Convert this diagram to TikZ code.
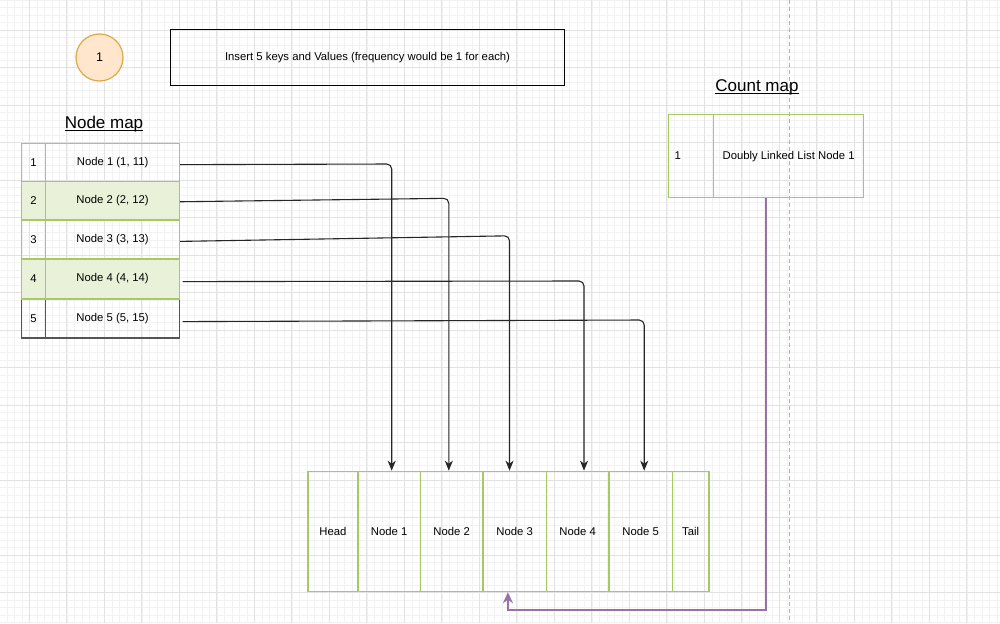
\documentclass[tikz,border=0pt]{standalone}
\usepackage{fontspec}
\setmainfont{Liberation Sans}
\usetikzlibrary{arrows.meta,calc}
\definecolor{gridminor}{HTML}{F2F2F2}
\definecolor{gridmajor}{HTML}{E2E2E2}
\definecolor{tgreen}{HTML}{A7C963}
\definecolor{tgreenfill}{HTML}{E9F2D8}
\definecolor{orfill}{HTML}{FFE6CC}
\definecolor{ordraw}{HTML}{E0A845}
\definecolor{purp}{HTML}{9673A6}
\definecolor{dgray}{HTML}{555555}
\tikzset{
  txt/.style={font=\fontsize{11.3}{13}\selectfont},
  cell/.style={draw=tgreen, line width=1.2pt, anchor=north west, inner sep=0pt, txt},
  graycell/.style={draw=dgray, line width=1.2pt, anchor=north west, inner sep=0pt, txt},
  title/.style={inner sep=0pt, font=\fontsize{17}{20}\selectfont},
  link/.style={draw=black!85, line width=1.1pt, rounded corners=5pt, -{Stealth[length=10pt,width=8pt,inset=3pt]}},
}
\begin{document}
\begin{tikzpicture}[x=1pt,y=-1pt]
\useasboundingbox (0,0) rectangle (1000,623);
\fill[white] (0,0) rectangle (1000,623);
% grid
\foreach \k in {0,...,133} {\draw[gridminor, line width=0.6pt] ({6.8+\k*7.5},0) -- ++(0,623);}
\foreach \k in {0,...,83} {\draw[gridminor, line width=0.6pt] (0,{\k*7.5}) -- ++(1000,0);}
\foreach \k in {0,...,27} {\draw[gridmajor, line width=0.7pt] ({-8.2+\k*37.5},0) -- ++(0,623);}
\foreach \k in {0,...,17} {\draw[gridmajor, line width=0.7pt] (0,{-7.5+\k*37.5}) -- ++(1000,0);}
% page break line
\draw[gray!60, line width=0.7pt, dash pattern=on 4pt off 3pt] (789.5,0) -- (789.5,623);

% step circle
\node[circle, draw=ordraw, fill=orfill, line width=1.2pt, minimum size=47pt, inner sep=0pt, font=\fontsize{12.5}{14}\selectfont] (step1) at (99.5,57.5) {1};
% instruction box
\node[draw=black, line width=1.1pt, anchor=north west, minimum width=394pt, minimum height=56pt, inner sep=0pt, txt] (info) at (170,29) {Insert 5 keys and Values (frequency would be 1 for each)};

% Node map title
\node[title] (nmt) at (104,124) {Node map};
\draw[line width=0.9pt] ([yshift=-2pt]nmt.base west) -- ([yshift=-2pt]nmt.base east);

% Node map table
\node[graycell, minimum width=24pt, minimum height=39pt] (r5k) at (21,298.3) {5};
\node[graycell, minimum width=134pt, minimum height=39pt] (r5v) at (45,298.3) {Node 5 (5, 15)};
\node[cell, minimum width=24pt, minimum height=38.3pt] (r1k) at (21,142.7) {1};
\node[cell, minimum width=134pt, minimum height=38.3pt] (r1v) at (45,142.7) {Node 1 (1, 11)};
\node[cell, fill=tgreenfill, minimum width=24pt, minimum height=38.3pt] (r2k) at (21,181) {2};
\node[cell, fill=tgreenfill, minimum width=134pt, minimum height=38.3pt] (r2v) at (45,181) {Node 2 (2, 12)};
\node[cell, minimum width=24pt, minimum height=39pt] (r3k) at (21,219.3) {3};
\node[cell, minimum width=134pt, minimum height=39pt] (r3v) at (45,219.3) {Node 3 (3, 13)};
\node[cell, fill=tgreenfill, minimum width=24pt, minimum height=40pt] (r4k) at (21,258.3) {4};
\node[cell, fill=tgreenfill, minimum width=134pt, minimum height=40pt] (r4v) at (45,258.3) {Node 4 (4, 14)};

% Count map title
\node[title] (cmt) at (757,87) {Count map};
\draw[line width=0.9pt] ([yshift=-2pt]cmt.base west) -- ([yshift=-2pt]cmt.base east);

% Count map table
\node[cell, minimum width=45pt, minimum height=83pt, text width=33pt, align=left, inner xsep=6pt] (ck) at (668,114) {1};
\node[cell, minimum width=150pt, minimum height=83pt] (cv) at (713,114) {Doubly Linked List Node 1};
\coordinate (cbot) at ($(ck.south west)!0.5!(cv.south east)$);

% Doubly linked list
\node[cell, minimum width=50pt, minimum height=120.3pt] (dh) at (307.3,470.7) {Head};
\node[cell, minimum width=62.4pt, minimum height=120.3pt] (dn1) at (357.3,470.7) {Node 1};
\node[cell, minimum width=62.6pt, minimum height=120.3pt] (dn2) at (419.7,470.7) {Node 2};
\node[cell, minimum width=63.4pt, minimum height=120.3pt] (dn3) at (482.3,470.7) {Node 3};
\node[cell, minimum width=62.6pt, minimum height=120.3pt] (dn4) at (545.7,470.7) {Node 4};
\node[cell, minimum width=63.4pt, minimum height=120.3pt] (dn5) at (608.3,470.7) {Node 5};
\node[cell, minimum width=36.6pt, minimum height=120.3pt] (dt) at (671.7,470.7) {Tail};

% links from node map to list
\coordinate (c1) at (391.7,164);
\coordinate (c2) at (448.8,198.3);
\coordinate (c3) at (509.5,235.8);
\coordinate (c4) at (584,281);
\coordinate (c5) at (644.2,320);
\draw[link] ($(r1v.east)+(0,2.2)$) -- (c1) -- (c1 |- dn1.north);
\draw[link] ($(r2v.east)+(0,1)$) -- (c2) -- (c2 |- dn2.north);
\draw[link] ($(r3v.east)+(0,2)$) -- (c3) -- (c3 |- dn3.north);
\draw[link] ($(r4v.east)+(2.5,2.7)$) -- (c4) -- (c4 |- dn4.north);
\draw[link] ($(r5v.east)+(2.5,3.2)$) -- (c5) -- (c5 |- dn5.north);

% count map to list
\coordinate (pc) at (cbot |- 0,610);
\coordinate (pd) at ($(dn3.south)+(-6.7,0)$);
\draw[draw=purp, line width=2pt, -{Stealth[length=11pt,width=10pt,inset=3.5pt]}] (cbot) -- (pc) -- (pc -| pd) -- (pd);
\end{tikzpicture}
\end{document}
